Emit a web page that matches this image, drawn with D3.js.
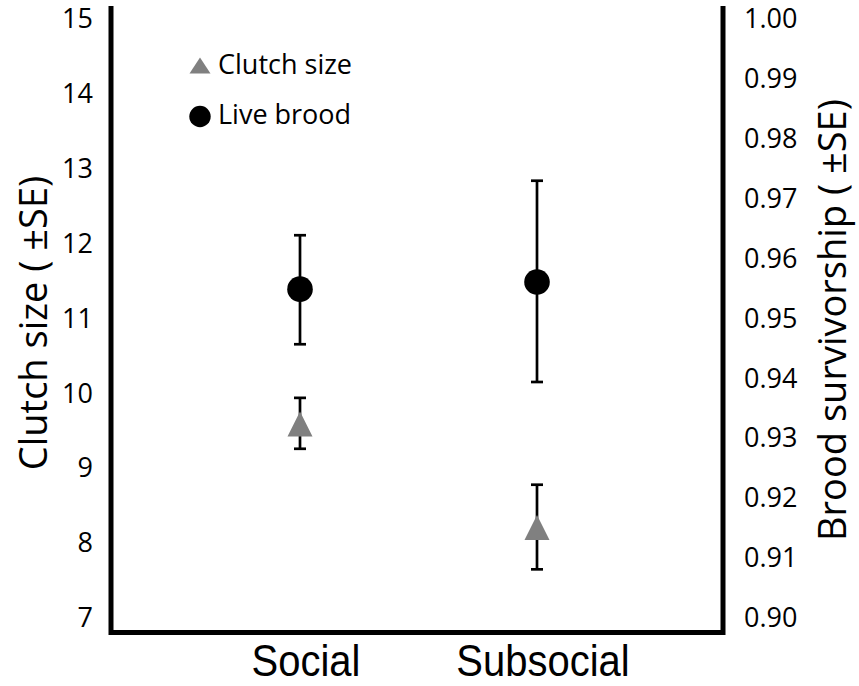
<!DOCTYPE html>
<html><head><meta charset="utf-8">
<script src="https://cdn.jsdelivr.net/npm/d3@7"></script>
<style>body{margin:0;background:#fff}</style>
</head><body><svg id="c" width="859" height="686"></svg>
<script>
const categories = ["Social", "Subsocial"];
const clutchMean = [9.59, 8.21];
const clutchLow = [9.26, 7.65];
const clutchHigh = [9.94, 8.78];
const broodMean = [0.9549, 0.9561];
const broodLow = [0.9457, 0.9394];
const broodHigh = [0.9639, 0.9730];
const leftTicks = [7, 8, 9, 10, 11, 12, 13, 14, 15];
const rightTicks = [0.90, 0.91, 0.92, 0.93, 0.94, 0.95, 0.96, 0.97, 0.98, 0.99, 1.00];
const legendLabels = ["Clutch size", "Live brood"];

const svg = d3.select("#c");
const L = 111, R = 723, T = 19, B = 618;
const x = d3.scalePoint().domain(categories).range([300, 537]);
const yL = d3.scaleLinear().domain([7, 15]).range([B, T]);
const yR = d3.scaleLinear().domain([0.90, 1.00]).range([B, T]);

// frame
svg.append("path")
  .attr("d", `M${L},6 V632.5 H${R} V6`)
  .attr("fill", "none").attr("stroke", "#000").attr("stroke-width", 5);

const font = "'Open Sans', 'Noto Sans', sans-serif";
const gl = svg.append("g").attr("transform", `translate(${L},0)`)
  .call(d3.axisLeft(yL).tickValues(leftTicks).tickSize(0).tickPadding(18).tickFormat(d3.format("d")));
gl.select(".domain").remove();
gl.selectAll("text").attr("font-family", font).attr("font-size", 27).attr("fill", "#000");

const gr = svg.append("g").attr("transform", `translate(${R},0)`)
  .call(d3.axisRight(yR).tickValues(rightTicks).tickSize(0).tickPadding(21).tickFormat(d3.format(".2f")));
gr.select(".domain").remove();
gr.selectAll("text").attr("font-family", font).attr("font-size", 27).attr("fill", "#000");

// x labels
svg.selectAll("text.xl").data(categories).enter().append("text")
  .attr("class", "xl")
  .attr("transform", d => `translate(${x(d) + 6},676) scale(1,1.12)`)
  .attr("text-anchor", "middle")
  .attr("font-family", "'Liberation Sans', Arial, sans-serif")
  .attr("font-size", 40).text(d => d);

// axis titles
svg.append("text").attr("transform", "translate(47,323) rotate(-90)")
  .attr("text-anchor", "middle").attr("font-family", font).attr("font-size", 38)
  .text("Clutch size ( ±SE)");
svg.append("text").attr("transform", "translate(846,320) rotate(-90)")
  .attr("text-anchor", "middle").attr("font-family", font).attr("font-size", 38)
  .text("Brood survivorship ( ±SE)");

const cap = 6;
function errorBars(low, high, ys) {
  const g = svg.append("g").attr("stroke", "#000").attr("stroke-width", 2.7).attr("fill", "none");
  categories.forEach((c, i) => {
    const cx = x(c);
    g.append("line").attr("x1", cx).attr("x2", cx).attr("y1", ys(low[i])).attr("y2", ys(high[i]));
    g.append("line").attr("x1", cx - cap).attr("x2", cx + cap).attr("y1", ys(low[i])).attr("y2", ys(low[i]));
    g.append("line").attr("x1", cx - cap).attr("x2", cx + cap).attr("y1", ys(high[i])).attr("y2", ys(high[i]));
  });
}
errorBars(clutchLow, clutchHigh, yL);
errorBars(broodLow, broodHigh, yR);

// triangle marker (bounding box centred on value)
const triPath = (w, h) => `M0,${-h / 2} L${w / 2},${h / 2} L${-w / 2},${h / 2} Z`;
svg.selectAll("path.tri").data(categories).enter().append("path")
  .attr("class", "tri")
  .attr("transform", (d, i) => `translate(${x(d)},${yL(clutchMean[i])})`)
  .attr("d", triPath(25, 25)).attr("fill", "#808080");

svg.selectAll("circle.br").data(categories).enter().append("circle")
  .attr("class", "br")
  .attr("cx", d => x(d)).attr("cy", (d, i) => yR(broodMean[i]))
  .attr("r", 12.8).attr("fill", "#000");

// legend
const lg = svg.append("g");
lg.append("path").attr("transform", "translate(200,65.5)").attr("d", triPath(21, 16)).attr("fill", "#808080");
lg.append("circle").attr("cx", 200).attr("cy", 116.5).attr("r", 10.7).attr("fill", "#000");
lg.selectAll("text").data(legendLabels).enter().append("text")
  .attr("x", 218).attr("y", (d, i) => 74 + i * 50)
  .attr("font-family", font).attr("font-size", 27).text(d => d);
</script></body></html>
